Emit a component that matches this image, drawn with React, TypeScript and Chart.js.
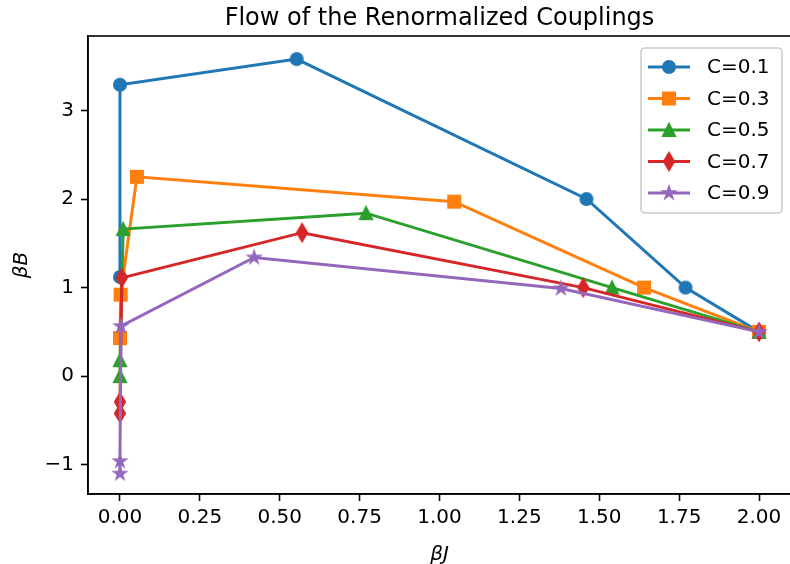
import React, { useEffect, useRef } from "react";
import { Chart, registerables } from "chart.js";
Chart.register(...registerables);

const seriesLabels = ["C=0.1", "C=0.3", "C=0.5", "C=0.7", "C=0.9"];
const seriesColors = ["#1f77b4", "#ff7f0e", "#2ca02c", "#d62728", "#9467bd"];
const seriesMarkers = ["circle", "square", "triangle", "thinDiamond", "star"];

const j01 = [2.0, 1.77, 1.46, 0.553, 0.0, 0.0];
const b01 = [0.5, 1.0, 2.0, 3.58, 3.29, 1.12];
const j03 = [2.0, 1.64, 1.046, 0.053, 0.002, 0.0];
const b03 = [0.5, 1.0, 1.97, 2.25, 0.92, 0.43];
const j05 = [2.0, 1.54, 0.77, 0.01, 0.0, 0.0];
const b05 = [0.5, 1.0, 1.84, 1.66, 0.18, 0.0];
const j07 = [2.0, 1.45, 0.57, 0.006, 0.0, 0.0];
const b07 = [0.5, 1.0, 1.62, 1.11, -0.29, -0.42];
const j09 = [2.0, 1.38, 0.42, 0.003, 0.0, 0.0];
const b09 = [0.5, 0.99, 1.34, 0.565, -0.96, -1.1];

const xTicks = [0, 0.25, 0.5, 0.75, 1.0, 1.25, 1.5, 1.75, 2.0];
const yTicks = [-1, 0, 1, 2, 3];

const titleText = "Flow of the Renormalized Couplings";
const xLabel = "βJ";
const yLabel = "βB";

const FONT = "'DejaVu Sans', sans-serif";
const MS = 12;

function makeMarker(kind: string, color: string): HTMLCanvasElement {
  const c = document.createElement("canvas");
  c.width = 26;
  c.height = 26;
  const ctx = c.getContext("2d")!;
  ctx.translate(13, 13);
  ctx.fillStyle = color;
  ctx.strokeStyle = color;
  ctx.lineWidth = 2;
  ctx.lineJoin = "miter";
  const h = MS / 2;
  ctx.beginPath();
  if (kind === "circle") {
    ctx.arc(0, 0, h, 0, Math.PI * 2);
  } else if (kind === "square") {
    ctx.rect(-h, -h, MS, MS);
  } else if (kind === "triangle") {
    ctx.moveTo(0, -h);
    ctx.lineTo(-h, h);
    ctx.lineTo(h, h);
    ctx.closePath();
  } else if (kind === "thinDiamond") {
    const dh = (MS * Math.SQRT2) / 2;
    const dw = dh * 0.6;
    ctx.moveTo(0, -dh);
    ctx.lineTo(dw, 0);
    ctx.lineTo(0, dh);
    ctx.lineTo(-dw, 0);
    ctx.closePath();
  } else if (kind === "star") {
    const ro = h;
    const ri = h * 0.381966;
    for (let i = 0; i < 10; i++) {
      const r = i % 2 === 0 ? ro : ri;
      const a = -Math.PI / 2 + (i * Math.PI) / 5;
      const x = r * Math.cos(a);
      const y = r * Math.sin(a);
      if (i === 0) ctx.moveTo(x, y);
      else ctx.lineTo(x, y);
    }
    ctx.closePath();
  }
  ctx.fill();
  ctx.stroke();
  return c;
}

export default function App() {
  const ref = useRef<HTMLCanvasElement | null>(null);

  useEffect(() => {
    document.body.style.margin = "0";
    const canvas = ref.current;
    if (!canvas) return;
    const xs = [j01, j03, j05, j07, j09];
    const ys = [b01, b03, b05, b07, b09];
    const markers = seriesMarkers.map((m, i) => makeMarker(m, seriesColors[i]));

    const datasets = seriesLabels.map((label, i) => ({
      label,
      data: xs[i].map((x, k) => ({ x, y: ys[i][k] })),
      borderColor: seriesColors[i],
      backgroundColor: seriesColors[i],
      borderWidth: 3,
      showLine: true,
      pointStyle: markers[i] as any,
      pointRadius: 6,
      pointHoverRadius: 6,
      order: seriesLabels.length - 1 - i,
      tension: 0,
    }));

    const decor = {
      id: "decor",
      afterDraw(chart: any) {
        const ctx = chart.ctx as CanvasRenderingContext2D;
        const a = chart.chartArea;
        ctx.save();
        ctx.strokeStyle = "#000";
        ctx.lineWidth = 1.6;
        ctx.strokeRect(a.left, a.top, a.right - a.left, a.bottom - a.top);

        ctx.fillStyle = "#000";
        ctx.textAlign = "center";
        ctx.textBaseline = "alphabetic";
        ctx.font = `24px ${FONT}`;
        ctx.fillText(titleText, (a.left + a.right) / 2, 25);

        ctx.font = `italic 20px ${FONT}`;
        ctx.textBaseline = "middle";
        ctx.fillText(xLabel, (a.left + a.right) / 2, 555);
        ctx.save();
        ctx.translate(22, (a.top + a.bottom) / 2);
        ctx.rotate(-Math.PI / 2);
        ctx.fillText(yLabel, 0, 0);
        ctx.restore();

        // legend
        const lx = 641, ly = 48, lw = 141, lh = 165, r = 4;
        ctx.beginPath();
        ctx.moveTo(lx + r, ly);
        ctx.lineTo(lx + lw - r, ly);
        ctx.arcTo(lx + lw, ly, lx + lw, ly + r, r);
        ctx.lineTo(lx + lw, ly + lh - r);
        ctx.arcTo(lx + lw, ly + lh, lx + lw - r, ly + lh, r);
        ctx.lineTo(lx + r, ly + lh);
        ctx.arcTo(lx, ly + lh, lx, ly + lh - r, r);
        ctx.lineTo(lx, ly + r);
        ctx.arcTo(lx, ly, lx + r, ly, r);
        ctx.closePath();
        ctx.fillStyle = "rgba(255,255,255,0.8)";
        ctx.fill();
        ctx.strokeStyle = "#cccccc";
        ctx.lineWidth = 1.6;
        ctx.stroke();

        ctx.font = `20px ${FONT}`;
        ctx.textAlign = "left";
        ctx.textBaseline = "middle";
        seriesLabels.forEach((label, i) => {
          const y = 67 + i * 31.5;
          ctx.strokeStyle = seriesColors[i];
          ctx.lineWidth = 3;
          ctx.beginPath();
          ctx.moveTo(648, y);
          ctx.lineTo(690, y);
          ctx.stroke();
          ctx.drawImage(markers[i], 669 - 13, y - 13);
          ctx.fillStyle = "#000";
          ctx.fillText(label, 707, y + 1);
        });
        ctx.restore();
      },
    };

    const chart = new Chart(canvas, {
      type: "scatter",
      data: { datasets: datasets as any },
      options: {
        animation: false,
        responsive: false,
        devicePixelRatio: 1,
        layout: { padding: { top: 36, right: 8, left: 0, bottom: 0 } },
        plugins: { legend: { display: false }, tooltip: { enabled: false }, title: { display: false } },
        scales: {
          x: {
            type: "linear",
            min: -0.1,
            max: 2.1,
            afterFit: (s: any) => { s.height = 70; s.paddingLeft = 0; s.paddingRight = 0; },
            afterBuildTicks: (s: any) => { s.ticks = xTicks.map((v) => ({ value: v })); },
            ticks: {
              color: "#000",
              font: { family: FONT, size: 20 },
              padding: 5,
              maxRotation: 0,
              autoSkip: false,
              callback: (v: any) => Number(v).toFixed(2),
            },
            grid: { display: true, drawOnChartArea: false, drawTicks: true, tickLength: 7, tickColor: "#000", tickWidth: 1.6 },
            border: { display: true, color: "#000", width: 1.6 },
          },
          y: {
            type: "linear",
            min: -1.33,
            max: 3.84,
            afterFit: (s: any) => { s.width = 88; s.paddingTop = 0; s.paddingBottom = 0; },
            afterBuildTicks: (s: any) => { s.ticks = yTicks.map((v) => ({ value: v })); },
            ticks: {
              color: "#000",
              font: { family: FONT, size: 20 },
              padding: 7,
              autoSkip: false,
              callback: (v: any) => (Number(v) < 0 ? "\u2212" + Math.abs(Number(v)) : String(v)),
            },
            grid: { display: true, drawOnChartArea: false, drawTicks: true, tickLength: 7, tickColor: "#000", tickWidth: 1.6 },
            border: { display: true, color: "#000", width: 1.6 },
          },
        },
      },
      plugins: [decor],
    });
    return () => chart.destroy();
  }, []);

  return (
    <div style={{ position: "fixed", left: 0, top: 0, width: 790, height: 564, overflow: "hidden", background: "#fff" }}>
      <canvas ref={ref} width={800} height={564} style={{ width: 800, height: 564, display: "block" }} />
    </div>
  );
}
